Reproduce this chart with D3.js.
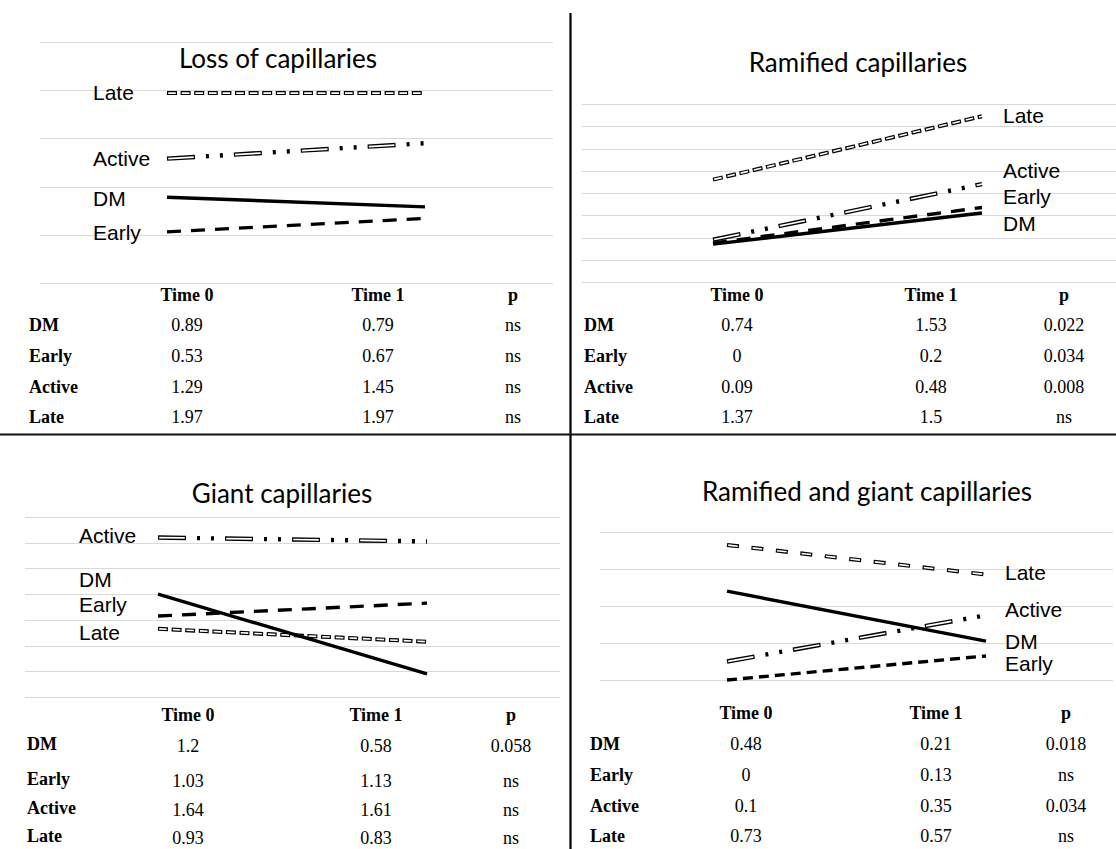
<!DOCTYPE html>
<html>
<head>
<meta charset="utf-8">
<script src="https://cdn.jsdelivr.net/npm/d3@7"></script>
<style>
  body { margin: 0; background: #fff; }
  svg { display: block; }
  .title { font-family: Lato, "Open Sans", sans-serif; font-size: 26px; fill: #000; }
  .series-label { font-family: "Liberation Sans", Arial, sans-serif; font-size: 21px; fill: #000; }
  .cell { font-family: "Liberation Serif", "Times New Roman", serif; font-size: 18px; fill: #000; }
  .cell.bold { font-weight: bold; }
  .grid { stroke: #d9d9d9; stroke-width: 1.2; }
</style>
</head>
<body>
<div id="chart"></div>
<script>
// groups and time points shared by every panel
const groups = ['DM', 'Early', 'Active', 'Late'];
const timeLabels = ['Time 0', 'Time 1'];
const pHeader = 'p';

// Loss of capillaries
const lossT0 = [0.89, 0.53, 1.29, 1.97];
const lossT1 = [0.79, 0.67, 1.45, 1.97];
const lossP = ['ns', 'ns', 'ns', 'ns'];

// Ramified capillaries (table values, and the values the plot shows)
const ramT0 = [0.74, 0, 0.09, 1.37];
const ramT1 = [1.53, 0.2, 0.48, 1.5];
const ramP = ['0.022', '0.034', '0.008', 'ns'];
const ramPlotT0 = [0.34, 0.35, 0.38, 0.92];
const ramPlotT1 = [0.62, 0.67, 0.88, 1.49];

// Giant capillaries
const giantT0 = [1.2, 1.03, 1.64, 0.93];
const giantT1 = [0.58, 1.13, 1.61, 0.83];
const giantP = ['0.058', 'ns', 'ns', 'ns'];

// Ramified and giant capillaries
const bothT0 = [0.48, 0, 0.1, 0.73];
const bothT1 = [0.21, 0.13, 0.35, 0.57];
const bothP = ['0.018', 'ns', '0.034', 'ns'];

const width = 1116, height = 849;

// line styles: each is a stack of strokes (black outline + white core gives the hollow dashes)
const baseStyles = {
  DM: [{color: '#000', w: 3.4, dash: null}],
  Early: [{color: '#000', w: 3.4, dash: '14 10'}],
  Active: [{color: '#000', w: 4.4, dash: '28 11 3 11 3 11'}, {color: '#fff', w: 1.7, dash: '0 1.2 25.6 40.2'}],
  Late: [{color: '#000', w: 4, dash: '10 3.6'}, {color: '#fff', w: 1.6, dash: '0 1.2 7.6 4.8'}]
};

const panels = [
  {
    title: 'Loss of capillaries', t0: lossT0, t1: lossT1, p: lossP, plot0: lossT0, plot1: lossT1,
    yDomain: [0, 2.5], yStep: 0.5, yRange: [283, 42], gridX: [40, 553], lineX: [167, 425],
    titlePos: [278, 58], labelSide: 'left', labelX: 93, labelDy: [1, 1, 0, -1],
    table: {labelX: 29, colX: [187, 378, 513], headerY: 295, rowY: [325, 356, 387, 417], valDy: 0}
  },
  {
    title: 'Ramified capillaries', t0: ramT0, t1: ramT1, p: ramP, plot0: ramPlotT0, plot1: ramPlotT1,
    yDomain: [0, 1.6], yStep: 0.2, yRange: [282, 104], gridX: [582, 1116], lineX: [713, 982],
    titlePos: [858, 62], labelSide: 'right', labelX: 1003, labelDy: [10, -11, -14, -1],
    table: {labelX: 584, colX: [737, 931, 1064], headerY: 295, rowY: [325, 356, 387, 417], valDy: 0}
  },
  {
    title: 'Giant capillaries', t0: giantT0, t1: giantT1, p: giantP, plot0: giantT0, plot1: giantT1,
    yDomain: [0.4, 1.8], yStep: 0.2, yRange: [697, 517], gridX: [25, 560], lineX: [158, 427],
    titlePos: [282, 493], labelSide: 'left', labelX: 79, labelDy: [-15, -12, -2, 4],
    table: {labelX: 27, colX: [188, 376, 511], headerY: 715, rowY: [744, 779, 808, 836], valDy: 2}
  },
  {
    title: 'Ramified and giant capillaries', t0: bothT0, t1: bothT1, p: bothP, plot0: bothT0, plot1: bothT1,
    yDomain: [0, 0.8], yStep: 0.2, yRange: [680, 532], gridX: [600, 1113], lineX: [727, 986],
    titlePos: [867, 491], labelSide: 'right', labelX: 1005, labelDy: [0, 8, -6, -2],
    table: {labelX: 590, colX: [746, 936, 1066], headerY: 713, rowY: [744, 775, 806, 836], valDy: 0},
    styleOverride: {
      Early: [{color: '#000', w: 3.4, dash: '10 6'}],
      Late: [{color: '#000', w: 4, dash: '12 12.6'}, {color: '#fff', w: 1.6, dash: '0 1.2 9.6 13.8'}]
    }
  }
];

const svg = d3.select('#chart').append('svg')
    .attr('width', width)
    .attr('height', height);

panels.forEach(cfg => {
  const g = svg.append('g').attr('class', 'panel');

  const x = d3.scalePoint().domain(timeLabels).range(cfg.lineX);
  const y = d3.scaleLinear().domain(cfg.yDomain).range(cfg.yRange);

  // horizontal gridlines
  const gridVals = d3.range(cfg.yDomain[0], cfg.yDomain[1] + cfg.yStep / 2, cfg.yStep);
  g.selectAll('.grid')
      .data(gridVals)
    .join('line')
      .attr('class', 'grid')
      .attr('x1', cfg.gridX[0])
      .attr('x2', cfg.gridX[1])
      .attr('y1', d => Math.round(y(d)) + 0.5)
      .attr('y2', d => Math.round(y(d)) + 0.5);

  // title
  g.append('text')
      .attr('class', 'title')
      .attr('x', cfg.titlePos[0])
      .attr('y', cfg.titlePos[1])
      .attr('text-anchor', 'middle')
      .attr('dominant-baseline', 'central')
      .text(cfg.title);

  const series = groups.map((name, i) => ({
    name: name,
    idx: i,
    values: [{t: timeLabels[0], v: cfg.plot0[i]}, {t: timeLabels[1], v: cfg.plot1[i]}]
  }));

  const line = d3.line().x(d => x(d.t)).y(d => y(d.v));

  // draw back to front: Late, Active, Early, DM
  const order = ['Late', 'Active', 'Early', 'DM'];
  order.forEach(name => {
    const s = series.find(d => d.name === name);
    const layers = (cfg.styleOverride && cfg.styleOverride[name]) || baseStyles[name];
    g.selectAll(null)
        .data(layers)
      .join('path')
        .attr('d', line(s.values))
        .attr('fill', 'none')
        .attr('stroke', d => d.color)
        .attr('stroke-width', d => d.w)
        .attr('stroke-dasharray', d => d.dash)
        .attr('stroke-linecap', 'butt');
  });

  // series labels next to the start (left) or end (right) of each line
  g.selectAll('.series-label')
      .data(series)
    .join('text')
      .attr('class', 'series-label')
      .attr('x', cfg.labelX)
      .attr('y', d => {
        const v = cfg.labelSide === 'left' ? d.values[0] : d.values[1];
        return y(v.v) + cfg.labelDy[d.idx];
      })
      .attr('dominant-baseline', 'central')
      .text(d => d.name);

  // table under the plot
  const tb = cfg.table;
  const headers = [timeLabels[0], timeLabels[1], pHeader];
  g.selectAll('.head')
      .data(headers)
    .join('text')
      .attr('class', 'cell bold head')
      .attr('x', (d, i) => tb.colX[i])
      .attr('y', tb.headerY)
      .attr('text-anchor', 'middle')
      .attr('dominant-baseline', 'central')
      .text(d => d);

  g.selectAll('.rowlab')
      .data(groups)
    .join('text')
      .attr('class', 'cell bold rowlab')
      .attr('x', tb.labelX)
      .attr('y', (d, i) => tb.rowY[i])
      .attr('dominant-baseline', 'central')
      .text(d => d);

  const cells = [];
  groups.forEach((gname, i) => {
    cells.push({row: i, col: 0, text: String(cfg.t0[i])});
    cells.push({row: i, col: 1, text: String(cfg.t1[i])});
    cells.push({row: i, col: 2, text: cfg.p[i]});
  });
  g.selectAll('.val')
      .data(cells)
    .join('text')
      .attr('class', 'cell val')
      .attr('x', d => tb.colX[d.col])
      .attr('y', d => tb.rowY[d.row] + tb.valDy)
      .attr('text-anchor', 'middle')
      .attr('dominant-baseline', 'central')
      .text(d => d.text);
});

// dividers between the four panels
svg.append('line')
    .attr('x1', 570.5).attr('x2', 570.5)
    .attr('y1', 13).attr('y2', height)
    .attr('stroke', '#000').attr('stroke-width', 2.2);
svg.append('line')
    .attr('x1', 0).attr('x2', width)
    .attr('y1', 434.5).attr('y2', 434.5)
    .attr('stroke', '#111').attr('stroke-width', 2);
</script>
</body>
</html>
